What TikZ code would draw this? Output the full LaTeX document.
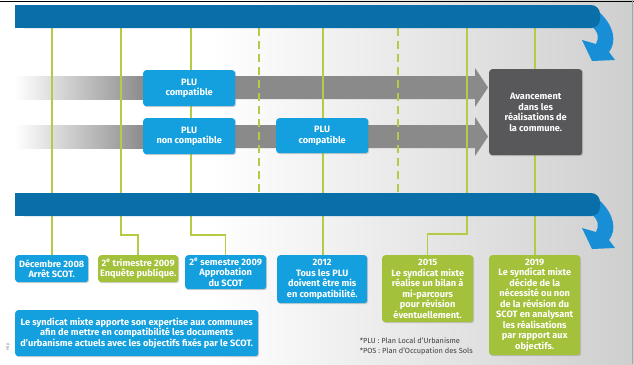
\documentclass[tikz,border=0pt]{standalone}
\usepackage{fontspec}
\setmainfont{Fira Sans}
\usetikzlibrary{calc,shadows}
\definecolor{barblue}{RGB}{10,111,168}
\definecolor{curlblue}{RGB}{24,142,214}
\definecolor{boxblue}{RGB}{20,160,222}
\definecolor{boxgreen}{RGB}{163,193,58}
\definecolor{linegreen}{RGB}{178,204,70}
\definecolor{arrgray}{RGB}{138,138,138}
\definecolor{darkbox}{RGB}{88,88,90}
\def\curl(#1){\fill[curlblue,shift={(0,#1)}] (592,27) .. controls (599,32) and (599,38) .. (596,44) -- (582,40) -- (592,61) -- (615,60) -- (609,52) .. controls (617,42) and (614,26) .. (600,13) -- cycle;}

\begin{document}
\begin{tikzpicture}[x=1pt,y=-1pt,
	box/.style={rounded corners=3pt,text=white,align=center,inner sep=1pt,
		font=\bfseries\fontsize{9.2}{10.5}\selectfont,
		drop shadow={shadow xshift=1pt,shadow yshift=-1pt,opacity=.35}},
	bluebox/.style={box,fill=boxblue},
	greenbox/.style={box,fill=boxgreen},
	tline/.style={draw=linegreen,line width=1.5pt},
	dline/.style={tline,dash pattern=on 8pt off 5pt}]
	%%%%% START %%%%%
	\def\xl{15}
	\def\xr{600}
	\def\xhead{475}
	\def\xtip{488}
	\def\ybot{255}

	\useasboundingbox (0,0) rectangle (634,364);
	\fill[white] (0,0) rectangle (634,364);
	\shade[left color=white,right color=gray!38] (210,0) rectangle (634,364);
	\draw[black,line width=1.2pt] (0,1.5) -- (634,1.5);
	\draw[gray!70,line width=.6pt] (632.5,0) -- (632.5,364);

	% gray arrows
	\shade[left color=white,right color=arrgray] (\xl,76) rectangle (145,99);
	\fill[arrgray] (144,76) -- (\xhead,76) -- (\xhead,68) -- (\xtip,87.5) -- (\xhead,107) -- (\xhead,99) -- (144,99) -- cycle;
	\shade[left color=white,right color=arrgray] (\xl,125) rectangle (145,148);
	\fill[arrgray] (144,125) -- (\xhead,125) -- (\xhead,117) -- (\xtip,136.5) -- (\xhead,156) -- (\xhead,148) -- (144,148) -- cycle;

	% bottom boxes
	\node[bluebox,anchor=north west,minimum width=73pt,minimum height=27pt] (dec) at (15,\ybot) {Décembre 2008\\Arrêt SCOT.};
	\node[greenbox,anchor=north west,minimum width=80pt,minimum height=27pt] (trim) at (98,\ybot) {2\textsuperscript{e} trimestre 2009\\Enquête publique.};
	\node[bluebox,anchor=north west,minimum width=81pt,minimum height=34pt] (sem) at (185,\ybot) {2\textsuperscript{e} semestre 2009\\Approbation\\du SCOT};
	\node[bluebox,anchor=north west,minimum width=90pt,minimum height=48pt] (yr12) at (277,\ybot) {2012\\Tous les PLU\\doivent être mis\\en compatibilité.};
	\node[greenbox,anchor=north west,minimum width=91pt,minimum height=67pt] (yr15) at (382,\ybot) {2015\\Le syndicat mixte\\réalise un bilan à\\mi-parcours\\pour révision\\éventuellement.};
	\node[greenbox,anchor=north west,minimum width=91pt,minimum height=100pt] (yr19) at (489,\ybot) {2019\\Le syndicat mixte\\décide de la\\nécessité ou non\\de la révision du\\SCOT en analysant\\les réalisations\\par rapport aux\\objectifs.};
	\node[bluebox,anchor=north west,minimum width=243pt,minimum height=46pt] (expert) at (15,310) {Le syndicat mixte apporte son expertise aux communes\\afin de mettre en compatibilité les documents\\d'urbanisme actuels avec les objectifs fixés par le SCOT.};

	% timeline marks
	\coordinate (t1) at (52,28);
	\coordinate (t2) at (121,28);
	\coordinate (t3) at (191,28);
	\coordinate (t4) at (259,28);
	\coordinate (t5) at (323,28);
	\coordinate (t6) at (398,28);
	\coordinate (t7) at (467,28);
	\coordinate (t8) at (535,28);

	\draw[tline] (t1) -- (t1 |- dec.north);
	\draw[tline] (t2) |- ($(trim.north)+(0,-20)$) -- (trim.north);
	\draw[tline] (t3) |- ($(sem.north)+(0,-20)$) -- (sem.north);
	\draw[dline] (t4) -- (259,193);
	\draw[tline] (t5) -- (t5 |- yr12.north);
	\draw[dline] (t6) -- (398,193);
	\draw[tline] (t7) |- ($(yr15.north)+(0,-21)$) -- (yr15.north);
	\draw[tline] (t8) -- (t8 |- yr19.north);

	% top boxes
	\node[bluebox,anchor=north west,minimum width=92pt,minimum height=36pt] (plua) at (143,70) {PLU\\compatible};
	\node[bluebox,anchor=north west,minimum width=92pt,minimum height=36pt] (plub) at (143,118) {PLU\\non compatible};
	\node[bluebox,anchor=north west,minimum width=92pt,minimum height=35pt] (pluc) at (276,118) {PLU\\compatible};
	\node[box,fill=darkbox,anchor=north west,minimum width=93pt,minimum height=86pt] (avance) at (489,69) {Avancement\\dans les\\réalisations de\\la commune.};

	% blue bars
	\curl(0)
	\fill[barblue,rounded corners=9pt] (\xl,5) rectangle (\xr,28);
	\fill[barblue] (\xl,5) rectangle (580,28);
	\curl(188)
	\fill[barblue,rounded corners=9pt] (\xl,193) rectangle (\xr,216);
	\fill[barblue] (\xl,193) rectangle (580,216);

	% notes
	\node[anchor=north east,align=left,inner sep=0,text=black!75,font=\fontsize{7.4}{9.5}\selectfont] (notes) at (473,338) {*PLU : Plan Local d'Urbanisme\\*POS : Plan d'Occupation des Sols};
	\node[rotate=90,inner sep=0,text=gray,font=\fontsize{4}{4}\selectfont] (credit) at (8,347) {Hop};
	%%%%% START %%%%%
\end{tikzpicture}
\end{document}
